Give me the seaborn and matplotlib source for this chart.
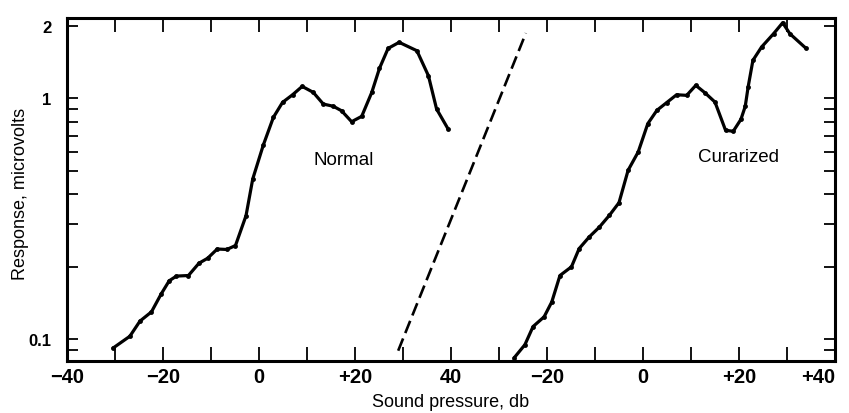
import numpy as np
import pandas as pd
import matplotlib
matplotlib.use("Agg")
import matplotlib.pyplot as plt
import seaborn as sns
from matplotlib.ticker import FixedLocator, NullFormatter

# Curva normal (db, microvoltios)
normal_db = [-30.4, -26.9, -24.8, -22.4, -20.4, -18.7, -17.2, -14.7, -12.5, -10.7,
             -8.7, -6.7, -4.9, -2.7, -1.3, 0.9, 3.0, 4.9, 7.0, 9.0,
             11.3, 13.4, 15.5, 17.2, 19.3, 21.4, 23.5, 25.1, 26.9, 29.2,
             32.9, 35.3, 37.0, 39.4]
normal_uv = [0.092, 0.103, 0.119, 0.130, 0.154, 0.175, 0.183, 0.184, 0.207, 0.217,
             0.237, 0.236, 0.245, 0.326, 0.463, 0.640, 0.834, 0.962, 1.035, 1.121,
             1.059, 0.947, 0.927, 0.888, 0.800, 0.842, 1.059, 1.332, 1.612, 1.708,
             1.576, 1.241, 0.903, 0.746]

# Curva curarizada (su propia escala de db)
curar_db = [-26.8, -24.6, -22.9, -20.6, -19.0, -17.3, -14.9, -13.3, -11.2, -9.1,
            -7.0, -5.0, -3.1, -1.0, 1.0, 2.9, 4.9, 7.0, 9.1, 11.0,
            12.9, 15.0, 17.2, 18.8, 20.4, 21.3, 21.9, 22.9, 24.7, 27.2,
            29.1, 30.6, 33.9]
curar_uv = [0.084, 0.095, 0.113, 0.124, 0.143, 0.184, 0.200, 0.238, 0.266, 0.292,
            0.327, 0.369, 0.503, 0.599, 0.785, 0.892, 0.959, 1.035, 1.029, 1.132,
            1.055, 0.965, 0.737, 0.730, 0.818, 0.926, 1.114, 1.438, 1.633, 1.854,
            2.06, 1.854, 1.617]
curar_offset = 80  # la segunda escala empieza donde acaba la primera

# Linea discontinua
dash_db = [29.0, 55.6]
dash_uv = [0.0897, 1.865]

xtick_pos = [-40, -20, 0, 20, 40, 60, 80, 100, 120]
xtick_lab = ["\u221240", "\u221220", "0", "+20", "40", "\u221220", "0", "+20", "+40"]

df = pd.concat([
    pd.DataFrame({"db": normal_db, "uv": normal_uv, "curva": "Normal"}),
    pd.DataFrame({"db": np.array(curar_db) + curar_offset, "uv": curar_uv, "curva": "Curarized"}),
])

sns.set_style("ticks")
plt.rcParams["font.family"] = ["Liberation Sans", "DejaVu Sans"]
plt.rcParams.update({"text.color": "black", "axes.labelcolor": "black",
                     "xtick.color": "black", "ytick.color": "black",
                     "axes.edgecolor": "black"})

fig = plt.figure(figsize=(8.49, 4.14), dpi=100)
ax = fig.add_axes([0.0789, 0.1256, 0.9046, 0.8284])

for nombre, sub in df.groupby("curva"):
    sns.lineplot(data=sub, x="db", y="uv", sort=False, color="black", linewidth=2.3,
                 marker="o", markersize=3.5, markeredgewidth=0, ax=ax, clip_on=False)

sns.lineplot(x=dash_db, y=dash_uv, color="black", linewidth=1.9, ax=ax,
             dashes=False, linestyle=(0, (5, 2.2)))

ax.set_yscale("log")
ax.set_xlim(-40, 120)
ax.set_ylim(0.0813, 2.154)

ax.set_xticks(np.arange(-40, 121, 10))
ax.set_xticklabels([xtick_lab[xtick_pos.index(v)] if v in xtick_pos else "" for v in range(-40, 121, 10)])
ax.yaxis.set_major_locator(FixedLocator([0.1, 1, 2]))
ax.set_yticklabels(["0.1", "1", "2"])
ax.yaxis.set_minor_locator(FixedLocator([0.09, 0.2, 0.3, 0.4, 0.5, 0.6, 0.7, 0.8, 0.9]))
ax.yaxis.set_minor_formatter(NullFormatter())

ax.tick_params(axis="x", which="both", direction="in", top=True, bottom=True,
               length=10, width=1.3, labelsize=14.5, pad=4)
ax.tick_params(axis="y", which="both", direction="in", left=True, right=True,
               length=8, width=1.3, labelsize=12, pad=11)
for lab in ax.get_xticklabels() + ax.get_yticklabels():
    lab.set_fontweight("bold")
ax.get_xticklabels()[-1].set_horizontalalignment("right")

for s in ax.spines.values():
    s.set_linewidth(2.2)

ax.text(17.7, 0.56, "Normal", fontsize=13.5, ha="center", va="center")
ax.text(99.8, 0.576, "Curarized", fontsize=13.5, ha="center", va="center")

ax.set_xlabel("Sound pressure, db", fontsize=13, labelpad=5)
ax.set_ylabel("Response, microvolts", fontsize=13)
ax.yaxis.set_label_coords(-0.05, 0.49)

fig.savefig("out.png", dpi=100)
